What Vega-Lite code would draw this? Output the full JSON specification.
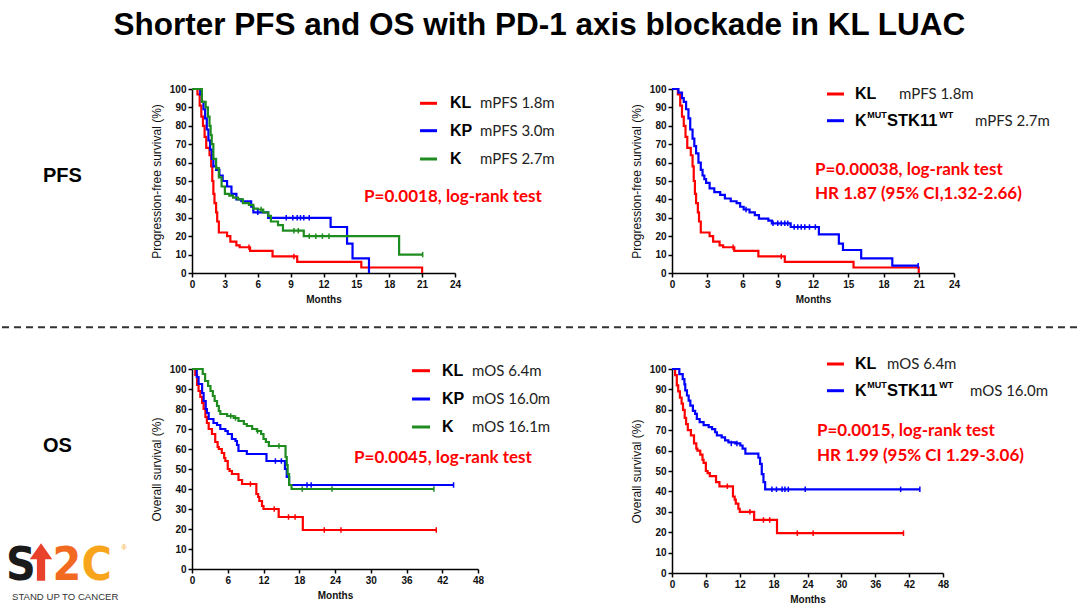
{
"$schema":"https://vega.github.io/schema/vega-lite/v6.json",
"background":"white",
"padding":{"left":0,"top":10,"right":0,"bottom":0},
"autosize":{"type":"pad"},
"datasets":{
"one":[{}],
"km":[
{"ep":"PFS","grp":"KL","month":0,"surv":100},{"ep":"PFS","grp":"KL","month":0.5,"surv":97},{"ep":"PFS","grp":"KL","month":0.7,"surv":91},{"ep":"PFS","grp":"KL","month":0.85,"surv":85},{"ep":"PFS","grp":"KL","month":1.0,"surv":80},{"ep":"PFS","grp":"KL","month":1.15,"surv":74},{"ep":"PFS","grp":"KL","month":1.3,"surv":68},{"ep":"PFS","grp":"KL","month":1.6,"surv":64},{"ep":"PFS","grp":"KL","month":1.75,"surv":58},{"ep":"PFS","grp":"KL","month":1.85,"surv":50},{"ep":"PFS","grp":"KL","month":1.95,"surv":43},{"ep":"PFS","grp":"KL","month":2.05,"surv":38},{"ep":"PFS","grp":"KL","month":2.2,"surv":33},{"ep":"PFS","grp":"KL","month":2.3,"surv":28},{"ep":"PFS","grp":"KL","month":2.45,"surv":22},{"ep":"PFS","grp":"KL","month":3.2,"surv":20},{"ep":"PFS","grp":"KL","month":3.5,"surv":17},{"ep":"PFS","grp":"KL","month":4.05,"surv":15},{"ep":"PFS","grp":"KL","month":4.35,"surv":14},{"ep":"PFS","grp":"KL","month":5.3,"surv":12},{"ep":"PFS","grp":"KL","month":7.35,"surv":9},{"ep":"PFS","grp":"KL","month":9.6,"surv":6},{"ep":"PFS","grp":"KL","month":15.45,"surv":3},{"ep":"PFS","grp":"KL","month":21,"surv":0},
{"ep":"PFS","grp":"KP","month":0,"surv":100},{"ep":"PFS","grp":"KP","month":0.75,"surv":97},{"ep":"PFS","grp":"KP","month":0.9,"surv":93},{"ep":"PFS","grp":"KP","month":1.05,"surv":89},{"ep":"PFS","grp":"KP","month":1.2,"surv":84},{"ep":"PFS","grp":"KP","month":1.35,"surv":78},{"ep":"PFS","grp":"KP","month":1.5,"surv":72},{"ep":"PFS","grp":"KP","month":1.65,"surv":67},{"ep":"PFS","grp":"KP","month":1.8,"surv":62},{"ep":"PFS","grp":"KP","month":1.95,"surv":58},{"ep":"PFS","grp":"KP","month":2.2,"surv":56},{"ep":"PFS","grp":"KP","month":2.5,"surv":53},{"ep":"PFS","grp":"KP","month":2.8,"surv":50},{"ep":"PFS","grp":"KP","month":3.2,"surv":47},{"ep":"PFS","grp":"KP","month":3.6,"surv":43},{"ep":"PFS","grp":"KP","month":4.05,"surv":40},{"ep":"PFS","grp":"KP","month":4.5,"surv":39},{"ep":"PFS","grp":"KP","month":5.4,"surv":36},{"ep":"PFS","grp":"KP","month":5.6,"surv":33},{"ep":"PFS","grp":"KP","month":6.95,"surv":30},{"ep":"PFS","grp":"KP","month":12.65,"surv":25},{"ep":"PFS","grp":"KP","month":14.15,"surv":16},{"ep":"PFS","grp":"KP","month":14.65,"surv":8},{"ep":"PFS","grp":"KP","month":16.15,"surv":0},
{"ep":"PFS","grp":"K","month":0,"surv":100},{"ep":"PFS","grp":"K","month":0.9,"surv":93},{"ep":"PFS","grp":"K","month":1.25,"surv":90},{"ep":"PFS","grp":"K","month":1.45,"surv":85},{"ep":"PFS","grp":"K","month":1.6,"surv":80},{"ep":"PFS","grp":"K","month":1.7,"surv":75},{"ep":"PFS","grp":"K","month":1.8,"surv":70},{"ep":"PFS","grp":"K","month":1.95,"surv":62},{"ep":"PFS","grp":"K","month":2.2,"surv":57},{"ep":"PFS","grp":"K","month":2.45,"surv":52},{"ep":"PFS","grp":"K","month":2.7,"surv":47},{"ep":"PFS","grp":"K","month":3.0,"surv":43},{"ep":"PFS","grp":"K","month":3.4,"surv":42},{"ep":"PFS","grp":"K","month":3.75,"surv":41},{"ep":"PFS","grp":"K","month":4.2,"surv":40},{"ep":"PFS","grp":"K","month":4.65,"surv":38},{"ep":"PFS","grp":"K","month":5.2,"surv":37},{"ep":"PFS","grp":"K","month":5.6,"surv":35},{"ep":"PFS","grp":"K","month":6.0,"surv":34.5},{"ep":"PFS","grp":"K","month":6.5,"surv":33},{"ep":"PFS","grp":"K","month":6.95,"surv":31},{"ep":"PFS","grp":"K","month":7.2,"surv":28},{"ep":"PFS","grp":"K","month":7.85,"surv":26},{"ep":"PFS","grp":"K","month":8.3,"surv":23},{"ep":"PFS","grp":"K","month":10.2,"surv":20},{"ep":"PFS","grp":"K","month":18.9,"surv":10},{"ep":"PFS","grp":"K","month":21.05,"surv":10},
{"ep":"PFS","grp":"KW","month":0,"surv":100},{"ep":"PFS","grp":"KW","month":0.55,"surv":98},{"ep":"PFS","grp":"KW","month":0.85,"surv":95},{"ep":"PFS","grp":"KW","month":1.0,"surv":93},{"ep":"PFS","grp":"KW","month":1.2,"surv":89},{"ep":"PFS","grp":"KW","month":1.4,"surv":84},{"ep":"PFS","grp":"KW","month":1.55,"surv":78},{"ep":"PFS","grp":"KW","month":1.75,"surv":73},{"ep":"PFS","grp":"KW","month":1.9,"surv":69},{"ep":"PFS","grp":"KW","month":2.05,"surv":65},{"ep":"PFS","grp":"KW","month":2.25,"surv":60},{"ep":"PFS","grp":"KW","month":2.45,"surv":56},{"ep":"PFS","grp":"KW","month":2.6,"surv":53},{"ep":"PFS","grp":"KW","month":2.75,"surv":51},{"ep":"PFS","grp":"KW","month":2.9,"surv":49},{"ep":"PFS","grp":"KW","month":3.2,"surv":46},{"ep":"PFS","grp":"KW","month":3.6,"surv":44},{"ep":"PFS","grp":"KW","month":4.1,"surv":42.5},{"ep":"PFS","grp":"KW","month":4.5,"surv":40.5},{"ep":"PFS","grp":"KW","month":5.0,"surv":39},{"ep":"PFS","grp":"KW","month":5.5,"surv":38},{"ep":"PFS","grp":"KW","month":5.8,"surv":36},{"ep":"PFS","grp":"KW","month":6.1,"surv":34.5},{"ep":"PFS","grp":"KW","month":6.6,"surv":33},{"ep":"PFS","grp":"KW","month":7.05,"surv":31.5},{"ep":"PFS","grp":"KW","month":7.4,"surv":29.5},{"ep":"PFS","grp":"KW","month":8.2,"surv":28.5},{"ep":"PFS","grp":"KW","month":8.5,"surv":27},{"ep":"PFS","grp":"KW","month":10.1,"surv":25},{"ep":"PFS","grp":"KW","month":12.5,"surv":21},{"ep":"PFS","grp":"KW","month":14.2,"surv":16},{"ep":"PFS","grp":"KW","month":14.55,"surv":12.5},{"ep":"PFS","grp":"KW","month":16.1,"surv":8},{"ep":"PFS","grp":"KW","month":18.75,"surv":4},{"ep":"PFS","grp":"KW","month":20.95,"surv":4},
{"ep":"OS","grp":"KL","month":0,"surv":100},{"ep":"OS","grp":"KL","month":0.55,"surv":97},{"ep":"OS","grp":"KL","month":0.85,"surv":92},{"ep":"OS","grp":"KL","month":1.1,"surv":89},{"ep":"OS","grp":"KL","month":1.4,"surv":86},{"ep":"OS","grp":"KL","month":1.7,"surv":83},{"ep":"OS","grp":"KL","month":1.95,"surv":80},{"ep":"OS","grp":"KL","month":2.25,"surv":76},{"ep":"OS","grp":"KL","month":2.5,"surv":73},{"ep":"OS","grp":"KL","month":2.8,"surv":70},{"ep":"OS","grp":"KL","month":3.35,"surv":67.5},{"ep":"OS","grp":"KL","month":3.9,"surv":63.5},{"ep":"OS","grp":"KL","month":4.3,"surv":61},{"ep":"OS","grp":"KL","month":4.5,"surv":60},{"ep":"OS","grp":"KL","month":5.0,"surv":58},{"ep":"OS","grp":"KL","month":5.4,"surv":55.5},{"ep":"OS","grp":"KL","month":5.6,"surv":54},{"ep":"OS","grp":"KL","month":6.0,"surv":50},{"ep":"OS","grp":"KL","month":6.3,"surv":49},{"ep":"OS","grp":"KL","month":6.7,"surv":47.5},{"ep":"OS","grp":"KL","month":7.8,"surv":44.5},{"ep":"OS","grp":"KL","month":8.4,"surv":42.5},{"ep":"OS","grp":"KL","month":10.8,"surv":37.5},{"ep":"OS","grp":"KL","month":11.1,"surv":36},{"ep":"OS","grp":"KL","month":11.3,"surv":34},{"ep":"OS","grp":"KL","month":11.75,"surv":31.5},{"ep":"OS","grp":"KL","month":12.0,"surv":30},{"ep":"OS","grp":"KL","month":14.55,"surv":26},{"ep":"OS","grp":"KL","month":18.6,"surv":19.5},{"ep":"OS","grp":"KL","month":41,"surv":19.5},
{"ep":"OS","grp":"KP","month":0,"surv":100},{"ep":"OS","grp":"KP","month":0.8,"surv":96},{"ep":"OS","grp":"KP","month":1.1,"surv":92.5},{"ep":"OS","grp":"KP","month":1.7,"surv":88},{"ep":"OS","grp":"KP","month":1.95,"surv":84},{"ep":"OS","grp":"KP","month":2.3,"surv":80},{"ep":"OS","grp":"KP","month":2.5,"surv":78},{"ep":"OS","grp":"KP","month":2.8,"surv":75},{"ep":"OS","grp":"KP","month":3.6,"surv":73},{"ep":"OS","grp":"KP","month":4.2,"surv":72},{"ep":"OS","grp":"KP","month":4.75,"surv":70},{"ep":"OS","grp":"KP","month":5.6,"surv":69},{"ep":"OS","grp":"KP","month":6.0,"surv":67.5},{"ep":"OS","grp":"KP","month":6.7,"surv":65},{"ep":"OS","grp":"KP","month":7.3,"surv":64},{"ep":"OS","grp":"KP","month":7.55,"surv":62},{"ep":"OS","grp":"KP","month":7.8,"surv":59},{"ep":"OS","grp":"KP","month":9.2,"surv":57.5},{"ep":"OS","grp":"KP","month":12.5,"surv":54},{"ep":"OS","grp":"KP","month":15.6,"surv":50},{"ep":"OS","grp":"KP","month":15.9,"surv":46},{"ep":"OS","grp":"KP","month":16.3,"surv":42},{"ep":"OS","grp":"KP","month":43.9,"surv":42},
{"ep":"OS","grp":"K","month":0,"surv":100},{"ep":"OS","grp":"K","month":1.8,"surv":97.5},{"ep":"OS","grp":"K","month":2.2,"surv":94},{"ep":"OS","grp":"K","month":2.7,"surv":91.5},{"ep":"OS","grp":"K","month":3.1,"surv":89},{"ep":"OS","grp":"K","month":3.5,"surv":86.5},{"ep":"OS","grp":"K","month":3.8,"surv":84},{"ep":"OS","grp":"K","month":4.2,"surv":81.5},{"ep":"OS","grp":"K","month":4.5,"surv":79},{"ep":"OS","grp":"K","month":4.75,"surv":77.5},{"ep":"OS","grp":"K","month":5.9,"surv":76.5},{"ep":"OS","grp":"K","month":7.0,"surv":75.5},{"ep":"OS","grp":"K","month":7.8,"surv":74},{"ep":"OS","grp":"K","month":8.7,"surv":72.5},{"ep":"OS","grp":"K","month":9.2,"surv":71.5},{"ep":"OS","grp":"K","month":10.1,"surv":70},{"ep":"OS","grp":"K","month":10.9,"surv":69},{"ep":"OS","grp":"K","month":11.6,"surv":67.5},{"ep":"OS","grp":"K","month":12.0,"surv":65},{"ep":"OS","grp":"K","month":12.4,"surv":63.5},{"ep":"OS","grp":"K","month":12.9,"surv":61.5},{"ep":"OS","grp":"K","month":15.7,"surv":56},{"ep":"OS","grp":"K","month":15.9,"surv":52},{"ep":"OS","grp":"K","month":16.05,"surv":47.5},{"ep":"OS","grp":"K","month":16.3,"surv":42},{"ep":"OS","grp":"K","month":16.7,"surv":40},{"ep":"OS","grp":"K","month":40.6,"surv":40},
{"ep":"OS","grp":"KW","month":0,"surv":100},{"ep":"OS","grp":"KW","month":1.3,"surv":97.5},{"ep":"OS","grp":"KW","month":1.9,"surv":95},{"ep":"OS","grp":"KW","month":2.2,"surv":92.5},{"ep":"OS","grp":"KW","month":2.35,"surv":89.5},{"ep":"OS","grp":"KW","month":2.65,"surv":87},{"ep":"OS","grp":"KW","month":2.95,"surv":84.5},{"ep":"OS","grp":"KW","month":3.25,"surv":82},{"ep":"OS","grp":"KW","month":3.7,"surv":79.5},{"ep":"OS","grp":"KW","month":4.1,"surv":78},{"ep":"OS","grp":"KW","month":4.4,"surv":75.5},{"ep":"OS","grp":"KW","month":4.9,"surv":74},{"ep":"OS","grp":"KW","month":5.6,"surv":72.5},{"ep":"OS","grp":"KW","month":6.5,"surv":71.5},{"ep":"OS","grp":"KW","month":7.1,"surv":70.5},{"ep":"OS","grp":"KW","month":7.65,"surv":69},{"ep":"OS","grp":"KW","month":7.95,"surv":67.5},{"ep":"OS","grp":"KW","month":8.8,"surv":66.5},{"ep":"OS","grp":"KW","month":9.4,"surv":65},{"ep":"OS","grp":"KW","month":10.0,"surv":64},{"ep":"OS","grp":"KW","month":11.2,"surv":63.5},{"ep":"OS","grp":"KW","month":12.1,"surv":62.5},{"ep":"OS","grp":"KW","month":12.5,"surv":61},{"ep":"OS","grp":"KW","month":13.0,"surv":58.5},{"ep":"OS","grp":"KW","month":15.3,"surv":56.5},{"ep":"OS","grp":"KW","month":15.6,"surv":53.5},{"ep":"OS","grp":"KW","month":15.9,"surv":48.5},{"ep":"OS","grp":"KW","month":16.2,"surv":44.5},{"ep":"OS","grp":"KW","month":16.5,"surv":41},{"ep":"OS","grp":"KW","month":43.9,"surv":41}
],
"cens":[
{"ep":"PFS","grp":"KL","month":5.2,"surv":14},{"ep":"PFS","grp":"KL","month":9.3,"surv":9},
{"ep":"PFS","grp":"KP","month":6.0,"surv":33},{"ep":"PFS","grp":"KP","month":8.6,"surv":30},{"ep":"PFS","grp":"KP","month":9.2,"surv":30},{"ep":"PFS","grp":"KP","month":9.6,"surv":30},{"ep":"PFS","grp":"KP","month":9.9,"surv":30},{"ep":"PFS","grp":"KP","month":10.2,"surv":30},{"ep":"PFS","grp":"KP","month":10.7,"surv":30},
{"ep":"PFS","grp":"K","month":6.3,"surv":34.5},{"ep":"PFS","grp":"K","month":9.3,"surv":23},{"ep":"PFS","grp":"K","month":9.7,"surv":23},{"ep":"PFS","grp":"K","month":10.7,"surv":20},{"ep":"PFS","grp":"K","month":11.3,"surv":20},{"ep":"PFS","grp":"K","month":11.9,"surv":20},{"ep":"PFS","grp":"K","month":12.5,"surv":20},{"ep":"PFS","grp":"K","month":21.05,"surv":10},
{"ep":"PFS","grp":"KW","month":6.3,"surv":34.5},{"ep":"PFS","grp":"KW","month":8.6,"surv":27},{"ep":"PFS","grp":"KW","month":9.0,"surv":27},{"ep":"PFS","grp":"KW","month":9.3,"surv":27},{"ep":"PFS","grp":"KW","month":9.6,"surv":27},{"ep":"PFS","grp":"KW","month":9.85,"surv":27},{"ep":"PFS","grp":"KW","month":10.4,"surv":25},{"ep":"PFS","grp":"KW","month":10.7,"surv":25},{"ep":"PFS","grp":"KW","month":11.0,"surv":25},{"ep":"PFS","grp":"KW","month":11.3,"surv":25},{"ep":"PFS","grp":"KW","month":11.7,"surv":25},{"ep":"PFS","grp":"KW","month":12.2,"surv":25},{"ep":"PFS","grp":"KW","month":20.95,"surv":4},
{"ep":"OS","grp":"KL","month":9.8,"surv":42.5},{"ep":"OS","grp":"KL","month":13.8,"surv":30},{"ep":"OS","grp":"KL","month":16.2,"surv":26},{"ep":"OS","grp":"KL","month":17.3,"surv":26},{"ep":"OS","grp":"KL","month":22.2,"surv":19.5},{"ep":"OS","grp":"KL","month":25.0,"surv":19.5},{"ep":"OS","grp":"KL","month":41,"surv":19.5},
{"ep":"OS","grp":"KP","month":14.0,"surv":54},{"ep":"OS","grp":"KP","month":15.0,"surv":54},{"ep":"OS","grp":"KP","month":19.3,"surv":42},{"ep":"OS","grp":"KP","month":20.0,"surv":42},{"ep":"OS","grp":"KP","month":43.9,"surv":42},
{"ep":"OS","grp":"K","month":6.5,"surv":76.5},{"ep":"OS","grp":"K","month":7.3,"surv":75.5},{"ep":"OS","grp":"K","month":11.0,"surv":69},{"ep":"OS","grp":"K","month":14.6,"surv":61.5},{"ep":"OS","grp":"K","month":18.5,"surv":40},{"ep":"OS","grp":"K","month":23.5,"surv":40},{"ep":"OS","grp":"K","month":40.6,"surv":40},
{"ep":"OS","grp":"KW","month":10.5,"surv":63.5},{"ep":"OS","grp":"KW","month":11.5,"surv":63.5},{"ep":"OS","grp":"KW","month":17.7,"surv":41},{"ep":"OS","grp":"KW","month":18.5,"surv":41},{"ep":"OS","grp":"KW","month":19.5,"surv":41},{"ep":"OS","grp":"KW","month":20.0,"surv":41},{"ep":"OS","grp":"KW","month":20.6,"surv":41},{"ep":"OS","grp":"KW","month":23.6,"surv":41},{"ep":"OS","grp":"KW","month":40.5,"surv":41},{"ep":"OS","grp":"KW","month":43.9,"surv":41}
]
},
"columns":2,
"align":"each",
"bounds":"flush",
"spacing":{"row":96,"column":194},
"concat":[
{
"width":263,"height":184,
"resolve":{"axis":{"x":"independent","y":"independent"}},
"layer":[
{"data":{"name":"km"},"transform":[{"filter":"datum.ep==='PFS' && datum.grp!=='KW'"}],
 "mark":{"type":"line","interpolate":"step-after","strokeWidth":2.2},
 "encoding":{
  "x":{"field":"month","type":"quantitative","scale":{"domain":[0,24],"nice":false,"zero":false},"axis":{"values":[0,3,6,9,12,15,18,21,24],"title":"Months"}},
  "y":{"field":"surv","type":"quantitative","scale":{"domain":[0,100],"nice":false},"axis":{"values":[0,10,20,30,40,50,60,70,80,90,100],"title":"Progression-free survival (%)"}},
  "color":{"field":"grp","type":"nominal","scale":{"domain":["KL","KP","K","KW"],"range":["#ff0000","#0000ff","#1e8c1e","#0000ff"]},"legend":null}}},
{"data":{"name":"cens"},"transform":[{"filter":"datum.ep==='PFS' && datum.grp!=='KW'"}],
 "mark":{"type":"point","shape":"M0,-1L0,1","size":30,"strokeWidth":1.5,"filled":false,"opacity":1},
 "encoding":{"x":{"field":"month","type":"quantitative","axis":null},"y":{"field":"surv","type":"quantitative","axis":null},"color":{"field":"grp","type":"nominal","legend":null}}},
{"data":{"name":"one"},"mark":{"type":"text","font":"Liberation Sans","fontWeight":"bold","fontSize":31.5,"align":"center","baseline":"middle","color":"#000"},
 "encoding":{"x":{"datum":31.7,"axis":null},"y":{"datum":134.2,"axis":null},"text":{"value":"Shorter PFS and OS with PD-1 axis blockade in KL LUAC"}}},
{"data":{"name":"one"},"mark":{"type":"text","font":"Liberation Sans","fontWeight":"bold","fontSize":20,"align":"left","baseline":"middle","color":"#000"},
 "encoding":{"x":{"datum":-13.6,"axis":null},"y":{"datum":52.72,"axis":null},"text":{"value":"PFS"}}},
{"data":{"name":"one"},"mark":{"type":"rule","strokeWidth":3,"color":"#ff0000"},"encoding":{"x":{"datum":20.81,"axis":null},"x2":{"datum":22.36},"y":{"datum":92.23,"axis":null}}},
{"data":{"name":"one"},"mark":{"type":"rule","strokeWidth":3,"color":"#0000ff"},"encoding":{"x":{"datum":20.81,"axis":null},"x2":{"datum":22.36},"y":{"datum":77.34,"axis":null}}},
{"data":{"name":"one"},"mark":{"type":"rule","strokeWidth":3,"color":"#1e8c1e"},"encoding":{"x":{"datum":20.81,"axis":null},"x2":{"datum":22.36},"y":{"datum":61.96,"axis":null}}},
{"data":{"name":"one"},"mark":{"type":"text","font":"Liberation Sans","fontWeight":"bold","fontSize":16,"align":"left","baseline":"middle","color":"#000"},"encoding":{"x":{"datum":23.54,"axis":null},"y":{"datum":92.23,"axis":null},"text":{"value":"KL"}}},
{"data":{"name":"one"},"mark":{"type":"text","font":"Liberation Sans","fontWeight":"bold","fontSize":16,"align":"left","baseline":"middle","color":"#000"},"encoding":{"x":{"datum":23.54,"axis":null},"y":{"datum":77.34,"axis":null},"text":{"value":"KP"}}},
{"data":{"name":"one"},"mark":{"type":"text","font":"Liberation Sans","fontWeight":"bold","fontSize":16,"align":"left","baseline":"middle","color":"#000"},"encoding":{"x":{"datum":23.54,"axis":null},"y":{"datum":61.96,"axis":null},"text":{"value":"K"}}},
{"data":{"name":"one"},"mark":{"type":"text","font":"Lato","fontSize":15,"align":"left","baseline":"middle","color":"#222"},"encoding":{"x":{"datum":26.28,"axis":null},"y":{"datum":92.23,"axis":null},"text":{"value":"mPFS 1.8m"}}},
{"data":{"name":"one"},"mark":{"type":"text","font":"Lato","fontSize":15,"align":"left","baseline":"middle","color":"#222"},"encoding":{"x":{"datum":26.28,"axis":null},"y":{"datum":77.34,"axis":null},"text":{"value":"mPFS 3.0m"}}},
{"data":{"name":"one"},"mark":{"type":"text","font":"Lato","fontSize":15,"align":"left","baseline":"middle","color":"#222"},"encoding":{"x":{"datum":26.28,"axis":null},"y":{"datum":61.96,"axis":null},"text":{"value":"mPFS 2.7m"}}},
{"data":{"name":"one"},"mark":{"type":"text","font":"Lato","fontWeight":"bold","fontSize":17,"align":"left","baseline":"middle","color":"#ff0000"},"encoding":{"x":{"datum":15.7,"axis":null},"y":{"datum":41.3,"axis":null},"text":{"value":"P=0.0018, log-rank test"}}}
]
},
{
"width":282,"height":184,
"resolve":{"axis":{"x":"independent","y":"independent"}},
"layer":[
{"data":{"name":"km"},"transform":[{"filter":"datum.ep==='PFS' && (datum.grp==='KL' || datum.grp==='KW')"}],
 "mark":{"type":"line","interpolate":"step-after","strokeWidth":2.2},
 "encoding":{
  "x":{"field":"month","type":"quantitative","scale":{"domain":[0,24],"nice":false,"zero":false},"axis":{"values":[0,3,6,9,12,15,18,21,24],"title":"Months"}},
  "y":{"field":"surv","type":"quantitative","scale":{"domain":[0,100],"nice":false},"axis":{"values":[0,10,20,30,40,50,60,70,80,90,100],"title":"Progression-free survival (%)"}},
  "color":{"field":"grp","type":"nominal","scale":{"domain":["KL","KP","K","KW"],"range":["#ff0000","#0000ff","#1e8c1e","#0000ff"]},"legend":null}}},
{"data":{"name":"cens"},"transform":[{"filter":"datum.ep==='PFS' && (datum.grp==='KL' || datum.grp==='KW')"}],
 "mark":{"type":"point","shape":"M0,-1L0,1","size":30,"strokeWidth":1.5,"filled":false,"opacity":1},
 "encoding":{"x":{"field":"month","type":"quantitative","axis":null},"y":{"field":"surv","type":"quantitative","axis":null},"color":{"field":"grp","type":"nominal","legend":null}}},
{"data":{"name":"one"},"mark":{"type":"rule","strokeWidth":3,"color":"#ff0000"},"encoding":{"x":{"datum":13.19,"axis":null},"x2":{"datum":14.64},"y":{"datum":97.28,"axis":null}}},
{"data":{"name":"one"},"mark":{"type":"rule","strokeWidth":3,"color":"#0000ff"},"encoding":{"x":{"datum":13.19,"axis":null},"x2":{"datum":14.64},"y":{"datum":82.77,"axis":null}}},
{"data":{"name":"one"},"mark":{"type":"text","font":"Liberation Sans","fontWeight":"bold","fontSize":16,"align":"left","baseline":"middle","color":"#000"},"encoding":{"x":{"datum":15.57,"axis":null},"y":{"datum":97.28,"axis":null},"text":{"value":"KL"}}},
{"data":{"name":"one"},"mark":{"type":"text","font":"Lato","fontSize":15,"align":"left","baseline":"middle","color":"#222"},"encoding":{"x":{"datum":19.32,"axis":null},"y":{"datum":97.28,"axis":null},"text":{"value":"mPFS 1.8m"}}},
{"data":{"name":"one"},"mark":{"type":"text","font":"Liberation Sans","fontWeight":"bold","fontSize":16,"align":"left","baseline":"middle","color":"#000"},"encoding":{"x":{"datum":15.57,"axis":null},"y":{"datum":82.77,"axis":null},"text":{"value":"K"}}},
{"data":{"name":"one"},"mark":{"type":"text","font":"Liberation Sans","fontWeight":"bold","fontSize":9,"align":"left","baseline":"middle","color":"#000"},"encoding":{"x":{"datum":16.62,"axis":null},"y":{"datum":85.6,"axis":null},"text":{"value":"MUT"}}},
{"data":{"name":"one"},"mark":{"type":"text","font":"Liberation Sans","fontWeight":"bold","fontSize":16.5,"align":"left","baseline":"middle","color":"#000"},"encoding":{"x":{"datum":18.3,"axis":null},"y":{"datum":82.77,"axis":null},"text":{"value":"STK11"}}},
{"data":{"name":"one"},"mark":{"type":"text","font":"Liberation Sans","fontWeight":"bold","fontSize":9,"align":"left","baseline":"middle","color":"#000"},"encoding":{"x":{"datum":22.75,"axis":null},"y":{"datum":85.6,"axis":null},"text":{"value":"WT"}}},
{"data":{"name":"one"},"mark":{"type":"text","font":"Lato","fontSize":15,"align":"left","baseline":"middle","color":"#222"},"encoding":{"x":{"datum":25.79,"axis":null},"y":{"datum":82.77,"axis":null},"text":{"value":"mPFS 2.7m"}}},
{"data":{"name":"one"},"mark":{"type":"text","font":"Lato","fontWeight":"bold","fontSize":17,"align":"left","baseline":"middle","color":"#ff0000"},"encoding":{"x":{"datum":12.17,"axis":null},"y":{"datum":56.14,"axis":null},"text":{"value":"P=0.00038, log-rank test"}}},
{"data":{"name":"one"},"mark":{"type":"text","font":"Lato","fontWeight":"bold","fontSize":17,"align":"left","baseline":"middle","color":"#ff0000"},"encoding":{"x":{"datum":12.17,"axis":null},"y":{"datum":42.93,"axis":null},"text":{"value":"HR 1.87 (95% CI,1.32-2.66)"}}}
]
},
{
"width":286,"height":200,
"resolve":{"axis":{"x":"independent","y":"independent"}},
"layer":[
{"data":{"name":"km"},"transform":[{"filter":"datum.ep==='OS' && datum.grp!=='KW'"}],
 "mark":{"type":"line","interpolate":"step-after","strokeWidth":2.2},
 "encoding":{
  "x":{"field":"month","type":"quantitative","scale":{"domain":[0,48],"nice":false,"zero":false},"axis":{"values":[0,6,12,18,24,30,36,42,48],"title":"Months"}},
  "y":{"field":"surv","type":"quantitative","scale":{"domain":[0,100],"nice":false},"axis":{"values":[0,10,20,30,40,50,60,70,80,90,100],"title":"Overall survival (%)"}},
  "color":{"field":"grp","type":"nominal","scale":{"domain":["KL","KP","K","KW"],"range":["#ff0000","#0000ff","#1e8c1e","#0000ff"]},"legend":null}}},
{"data":{"name":"cens"},"transform":[{"filter":"datum.ep==='OS' && datum.grp!=='KW'"}],
 "mark":{"type":"point","shape":"M0,-1L0,1","size":30,"strokeWidth":1.5,"filled":false,"opacity":1},
 "encoding":{"x":{"field":"month","type":"quantitative","axis":null},"y":{"field":"surv","type":"quantitative","axis":null},"color":{"field":"grp","type":"nominal","legend":null}}},
{"data":{"name":"one"},"mark":{"type":"rule","strokeWidth":2,"strokeDash":[7,5],"color":"#333"},"encoding":{"x":{"datum":-31.89,"axis":null},"x2":{"datum":149.38},"y":{"datum":120.85,"axis":null}}},
{"data":{"name":"one"},"mark":{"type":"text","font":"Liberation Sans","fontWeight":"bold","fontSize":20,"align":"left","baseline":"middle","color":"#000"},"encoding":{"x":{"datum":-25.01,"axis":null},"y":{"datum":61.75,"axis":null},"text":{"value":"OS"}}},
{"data":{"name":"one"},"mark":{"type":"text","font":"Liberation Sans Narrow, DejaVu Sans Condensed, sans-serif","fontWeight":"bold","fontSize":46,"align":"center","baseline":"alphabetic","color":"#1a1a1a"},"encoding":{"x":{"datum":-28.7,"axis":null},"y":{"datum":-5.5,"axis":null},"text":{"value":"S"}}},
{"data":{"name":"one"},"mark":{"type":"point","shape":"M0,-1L0.6,-0.15L0.22,-0.15L0.22,1L-0.22,1L-0.22,-0.15L-0.6,-0.15Z","size":1400,"filled":true,"opacity":1,"color":"#e8412c","strokeWidth":0},"encoding":{"x":{"datum":-25.34,"axis":null},"y":{"datum":3.5,"axis":null}}},
{"data":{"name":"one"},"mark":{"type":"text","font":"Liberation Sans Narrow, DejaVu Sans Condensed, sans-serif","fontWeight":"bold","fontSize":46,"align":"center","baseline":"alphabetic","color":"#f26a21"},"encoding":{"x":{"datum":-21.0,"axis":null},"y":{"datum":-5.5,"axis":null},"text":{"value":"2"}}},
{"data":{"name":"one"},"mark":{"type":"text","font":"Liberation Sans Narrow, DejaVu Sans Condensed, sans-serif","fontWeight":"bold","fontSize":46,"align":"center","baseline":"alphabetic","color":"#f9a51b"},"encoding":{"x":{"datum":-16.0,"axis":null},"y":{"datum":-5.5,"axis":null},"text":{"value":"C"}}},
{"data":{"name":"one"},"mark":{"type":"text","font":"Liberation Sans","fontSize":7,"align":"center","baseline":"middle","color":"#f9a51b"},"encoding":{"x":{"datum":-11.4,"axis":null},"y":{"datum":10.5,"axis":null},"text":{"value":"®"}}},
{"data":{"name":"one"},"mark":{"type":"text","font":"Liberation Sans","fontSize":9.6,"align":"left","baseline":"middle","color":"#333"},"encoding":{"x":{"datum":-30.21,"axis":null},"y":{"datum":-14,"axis":null},"text":{"value":"STAND UP TO CANCER"}}},
{"data":{"name":"one"},"mark":{"type":"rule","strokeWidth":3,"color":"#ff0000"},"encoding":{"x":{"datum":36.93,"axis":null},"x2":{"datum":39.95},"y":{"datum":99.15,"axis":null}}},
{"data":{"name":"one"},"mark":{"type":"rule","strokeWidth":3,"color":"#0000ff"},"encoding":{"x":{"datum":36.93,"axis":null},"x2":{"datum":39.95},"y":{"datum":85,"axis":null}}},
{"data":{"name":"one"},"mark":{"type":"rule","strokeWidth":3,"color":"#1e8c1e"},"encoding":{"x":{"datum":36.93,"axis":null},"x2":{"datum":39.95},"y":{"datum":71,"axis":null}}},
{"data":{"name":"one"},"mark":{"type":"text","font":"Liberation Sans","fontWeight":"bold","fontSize":16,"align":"left","baseline":"middle","color":"#000"},"encoding":{"x":{"datum":41.96,"axis":null},"y":{"datum":99.15,"axis":null},"text":{"value":"KL"}}},
{"data":{"name":"one"},"mark":{"type":"text","font":"Liberation Sans","fontWeight":"bold","fontSize":16,"align":"left","baseline":"middle","color":"#000"},"encoding":{"x":{"datum":41.96,"axis":null},"y":{"datum":85,"axis":null},"text":{"value":"KP"}}},
{"data":{"name":"one"},"mark":{"type":"text","font":"Liberation Sans","fontWeight":"bold","fontSize":16,"align":"left","baseline":"middle","color":"#000"},"encoding":{"x":{"datum":41.96,"axis":null},"y":{"datum":71,"axis":null},"text":{"value":"K"}}},
{"data":{"name":"one"},"mark":{"type":"text","font":"Lato","fontSize":15,"align":"left","baseline":"middle","color":"#222"},"encoding":{"x":{"datum":47.0,"axis":null},"y":{"datum":99.15,"axis":null},"text":{"value":"mOS 6.4m"}}},
{"data":{"name":"one"},"mark":{"type":"text","font":"Lato","fontSize":15,"align":"left","baseline":"middle","color":"#222"},"encoding":{"x":{"datum":47.0,"axis":null},"y":{"datum":85,"axis":null},"text":{"value":"mOS 16.0m"}}},
{"data":{"name":"one"},"mark":{"type":"text","font":"Lato","fontSize":15,"align":"left","baseline":"middle","color":"#222"},"encoding":{"x":{"datum":47.0,"axis":null},"y":{"datum":71,"axis":null},"text":{"value":"mOS 16.1m"}}},
{"data":{"name":"one"},"mark":{"type":"text","font":"Lato","fontWeight":"bold","fontSize":17,"align":"left","baseline":"middle","color":"#ff0000"},"encoding":{"x":{"datum":27.19,"axis":null},"y":{"datum":55.5,"axis":null},"text":{"value":"P=0.0045, log-rank test"}}}
]
},
{
"width":271,"height":204,
"resolve":{"axis":{"x":"independent","y":"independent"}},
"layer":[
{"data":{"name":"km"},"transform":[{"filter":"datum.ep==='OS' && (datum.grp==='KL' || datum.grp==='KW')"}],
 "mark":{"type":"line","interpolate":"step-after","strokeWidth":2.2},
 "encoding":{
  "x":{"field":"month","type":"quantitative","scale":{"domain":[0,48],"nice":false,"zero":false},"axis":{"values":[0,6,12,18,24,30,36,42,48],"title":"Months"}},
  "y":{"field":"surv","type":"quantitative","scale":{"domain":[0,100],"nice":false},"axis":{"values":[0,10,20,30,40,50,60,70,80,90,100],"title":"Overall survival (%)"}},
  "color":{"field":"grp","type":"nominal","scale":{"domain":["KL","KP","K","KW"],"range":["#ff0000","#0000ff","#1e8c1e","#0000ff"]},"legend":null}}},
{"data":{"name":"cens"},"transform":[{"filter":"datum.ep==='OS' && (datum.grp==='KL' || datum.grp==='KW')"}],
 "mark":{"type":"point","shape":"M0,-1L0,1","size":30,"strokeWidth":1.5,"filled":false,"opacity":1},
 "encoding":{"x":{"field":"month","type":"quantitative","axis":null},"y":{"field":"surv","type":"quantitative","axis":null},"color":{"field":"grp","type":"nominal","legend":null}}},
{"data":{"name":"one"},"mark":{"type":"rule","strokeWidth":3,"color":"#ff0000"},"encoding":{"x":{"datum":27.45,"axis":null},"x2":{"datum":30.46},"y":{"datum":102.45,"axis":null}}},
{"data":{"name":"one"},"mark":{"type":"rule","strokeWidth":3,"color":"#0000ff"},"encoding":{"x":{"datum":27.45,"axis":null},"x2":{"datum":30.46},"y":{"datum":89.36,"axis":null}}},
{"data":{"name":"one"},"mark":{"type":"text","font":"Liberation Sans","fontWeight":"bold","fontSize":16,"align":"left","baseline":"middle","color":"#000"},"encoding":{"x":{"datum":32.41,"axis":null},"y":{"datum":102.45,"axis":null},"text":{"value":"KL"}}},
{"data":{"name":"one"},"mark":{"type":"text","font":"Lato","fontSize":15,"align":"left","baseline":"middle","color":"#222"},"encoding":{"x":{"datum":38.08,"axis":null},"y":{"datum":102.45,"axis":null},"text":{"value":"mOS 6.4m"}}},
{"data":{"name":"one"},"mark":{"type":"text","font":"Liberation Sans","fontWeight":"bold","fontSize":16,"align":"left","baseline":"middle","color":"#000"},"encoding":{"x":{"datum":32.41,"axis":null},"y":{"datum":89.36,"axis":null},"text":{"value":"K"}}},
{"data":{"name":"one"},"mark":{"type":"text","font":"Liberation Sans","fontWeight":"bold","fontSize":9,"align":"left","baseline":"middle","color":"#000"},"encoding":{"x":{"datum":34.6,"axis":null},"y":{"datum":92.2,"axis":null},"text":{"value":"MUT"}}},
{"data":{"name":"one"},"mark":{"type":"text","font":"Liberation Sans","fontWeight":"bold","fontSize":16.5,"align":"left","baseline":"middle","color":"#000"},"encoding":{"x":{"datum":38.08,"axis":null},"y":{"datum":89.36,"axis":null},"text":{"value":"STK11"}}},
{"data":{"name":"one"},"mark":{"type":"text","font":"Liberation Sans","fontWeight":"bold","fontSize":9,"align":"left","baseline":"middle","color":"#000"},"encoding":{"x":{"datum":47.35,"axis":null},"y":{"datum":92.2,"axis":null},"text":{"value":"WT"}}},
{"data":{"name":"one"},"mark":{"type":"text","font":"Lato","fontSize":15,"align":"left","baseline":"middle","color":"#222"},"encoding":{"x":{"datum":52.78,"axis":null},"y":{"datum":89.36,"axis":null},"text":{"value":"mOS 16.0m"}}},
{"data":{"name":"one"},"mark":{"type":"text","font":"Lato","fontWeight":"bold","fontSize":17,"align":"left","baseline":"middle","color":"#ff0000"},"encoding":{"x":{"datum":25.68,"axis":null},"y":{"datum":69.75,"axis":null},"text":{"value":"P=0.0015, log-rank test"}}},
{"data":{"name":"one"},"mark":{"type":"text","font":"Lato","fontWeight":"bold","fontSize":17,"align":"left","baseline":"middle","color":"#ff0000"},"encoding":{"x":{"datum":25.68,"axis":null},"y":{"datum":57.5,"axis":null},"text":{"value":"HR 1.99 (95% CI 1.29-3.06)"}}}
]
}
],
"config":{
 "view":{"stroke":null},
 "font":"Liberation Sans",
 "axis":{"grid":false,"domainColor":"#000","domainWidth":1.5,"tickColor":"#000","tickWidth":1.5,"tickSize":4,"labelFont":"Liberation Sans","labelFontWeight":"bold","labelFontSize":10,"labelColor":"#111","labelPadding":2,"labelOverlap":false,"labelFlush":false,"titleFont":"Liberation Sans","titleColor":"#111"},
 "axisX":{"titleFontSize":10,"titleFontWeight":"bold","titlePadding":5},
 "axisY":{"titleFontSize":12,"titleFontWeight":"normal","titlePadding":6}
}
}
